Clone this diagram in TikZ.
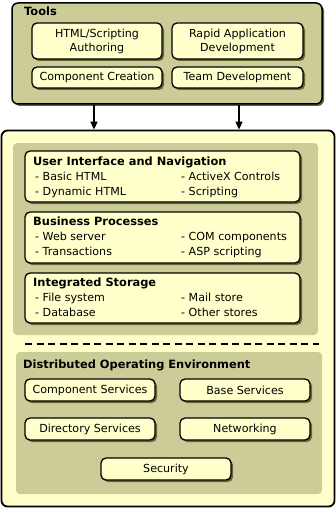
\documentclass[tikz,border=0pt]{standalone}
\usepackage{fontspec}
\setmainfont{DejaVu Sans}
\usetikzlibrary{shadows,arrows.meta}
\definecolor{oliveC}{HTML}{CCCC99}
\definecolor{creamC}{HTML}{FFFFCC}
\definecolor{shadowC}{HTML}{666633}
\begin{document}
\begin{tikzpicture}[x=1pt,y=-1pt,
  shad/.style={drop shadow={shadow xshift=2pt,shadow yshift=-2pt,fill=shadowC,opacity=1}},
  panel/.style={draw, line width=1.5pt, rounded corners=6pt, fill=oliveC, shad, inner sep=0},
  itembox/.style={draw, line width=1.3pt, rounded corners=5pt, fill=creamC, shad, align=center,
    inner sep=0, font=\fontsize{11.1}{14}\selectfont},
  region/.style={fill=oliveC, rounded corners=4pt, inner sep=0},
  ttl/.style={anchor=base west, inner sep=0, font=\bfseries\fontsize{11.4}{13}\selectfont},
  itm/.style={anchor=base west, inner sep=0, font=\fontsize{11.1}{14}\selectfont},
  arr/.style={line width=1.5pt, -{Triangle[width=7pt,length=8pt]}}]
\useasboundingbox (0,0) rectangle (336,508);
% Tools
\node[panel, minimum width=310pt, minimum height=101pt] (tools) at (167,53.5) {};
\node[ttl] (ttools) at (24,16) {Tools};
\node[itembox, minimum width=130pt, minimum height=36pt] (html) at (97,41) {HTML/Scripting\\Authoring};
\node[itembox, minimum width=131pt, minimum height=36pt] (rad) at (237.5,41) {Rapid Application\\Development};
\node[itembox, minimum width=130pt, minimum height=21pt] (comp) at (97,77.5) {Component Creation};
\node[itembox, minimum width=131pt, minimum height=21pt] (team) at (237.5,77.5) {Team Development};
% main box
\node[draw, line width=1.8pt, rounded corners=6pt, fill=creamC, minimum width=333pt, minimum height=376pt, inner sep=0] (main) at (168,318.5) {};
\coordinate (a1) at (94,0);
\coordinate (a2) at (239,0);
\draw[arr] (tools.south -| a1) -- (main.north -| a1);
\draw[arr] (tools.south -| a2) -- (main.north -| a2);
% upper region
\node[region, minimum width=305pt, minimum height=192pt] (upper) at (165.5,239) {};
\node[itembox, minimum width=275pt, minimum height=51pt] (ui) at (162.5,176.5) {};
\node[ttl] (tui) at (33,165) {User Interface and Navigation};
\node[itm] (ui1) at (35,180.5) {- Basic HTML};
\node[itm] (ui2) at (35,195.5) {- Dynamic HTML};
\node[itm] (ui3) at (181,180.5) {- ActiveX Controls};
\node[itm] (ui4) at (181,195.5) {- Scripting};
\node[itembox, minimum width=275pt, minimum height=51pt] (biz) at (162.5,237.5) {};
\node[ttl] (tbiz) at (33,225.5) {Business Processes};
\node[itm] (b1) at (35,240.5) {- Web server};
\node[itm] (b2) at (35,255) {- Transactions};
\node[itm] (b3) at (181,240.5) {- COM components};
\node[itm] (b4) at (181,255) {- ASP scripting};
\node[itembox, minimum width=275pt, minimum height=50pt] (sto) at (162.5,298) {};
\node[ttl] (tsto) at (33,286) {Integrated Storage};
\node[itm] (s1) at (35,301.5) {- File system};
\node[itm] (s2) at (35,316.5) {- Database};
\node[itm] (s3) at (181,301.5) {- Mail store};
\node[itm] (s4) at (181,316.5) {- Other stores};
% dashed separator
\coordinate (d1) at (25,344);
\coordinate (d2) at (319,344);
\draw[line width=2pt, dash pattern=on 7pt off 4.5pt] (d1) -- (d2);
% lower region
\node[region, minimum width=306pt, minimum height=142pt] (lower) at (169,423) {};
\node[ttl] (tdoe) at (23,368) {Distributed Operating Environment};
\node[itembox, minimum width=130pt, minimum height=22pt] (cs) at (90,390) {Component Services};
\node[itembox, minimum width=130pt, minimum height=22pt] (bs) at (245,390) {Base Services};
\node[itembox, minimum width=130pt, minimum height=22pt] (ds) at (90,429) {Directory Services};
\node[itembox, minimum width=130pt, minimum height=22pt] (nw) at (245,429) {Networking};
\node[itembox, minimum width=130pt, minimum height=22pt] (sec) at (166,469) {Security};
\end{tikzpicture}
\end{document}
